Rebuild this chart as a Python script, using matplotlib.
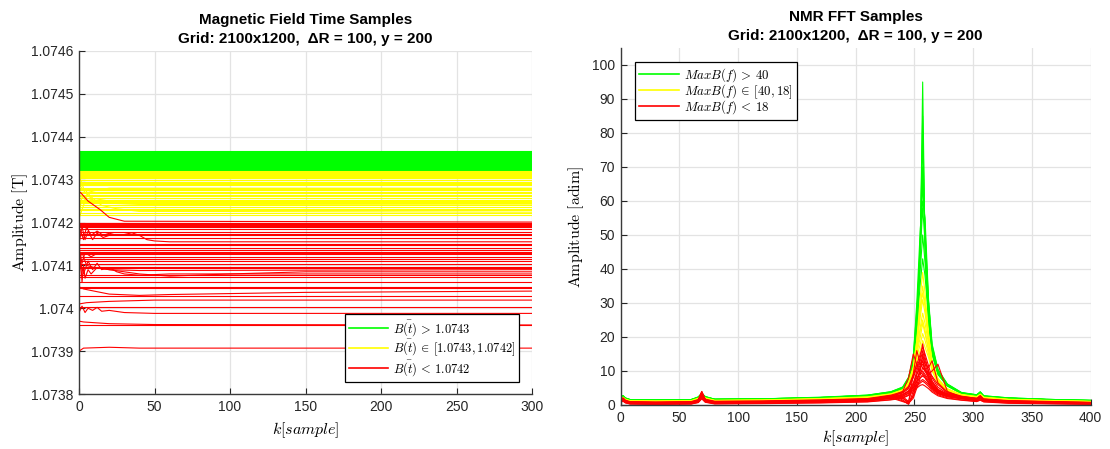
import matplotlib
matplotlib.use("Agg")
import matplotlib.pyplot as plt

plt.rcParams['mathtext.fontset'] = 'cm'
plt.rcParams['font.family'] = ['Liberation Sans', 'DejaVu Sans']

# ---------------- Left chart data (magnetic field time samples) ----------------
time_k_end = 300
green_levels = [1.074366, 1.074364, 1.074362, 1.074360, 1.074358, 1.074356, 1.074354,
                1.074352, 1.074350, 1.074348, 1.074346, 1.074344, 1.074342, 1.074340,
                1.074338, 1.074336, 1.074334, 1.074332, 1.074330, 1.074328, 1.074326,
                1.074324, 1.074322]
yellow_levels = [1.074320, 1.074318, 1.074316, 1.074313, 1.074311, 1.074308, 1.074306,
                 1.074303, 1.074300, 1.074298, 1.074295, 1.074292, 1.074290, 1.074287,
                 1.074281, 1.074279, 1.074276, 1.074272, 1.074270, 1.074268, 1.074264,
                 1.074262, 1.074256, 1.074252, 1.074250, 1.074248, 1.074245, 1.074241,
                 1.074237, 1.074232, 1.074228, 1.074221, 1.074217]
red_levels = [1.074200, 1.074198, 1.074196, 1.074195, 1.074192, 1.074189, 1.074186,
              1.074177, 1.074174, 1.074171, 1.074165, 1.074151, 1.074147, 1.074140,
              1.074136, 1.074132, 1.074129, 1.074126, 1.074120, 1.074116, 1.074110,
              1.074104, 1.074097, 1.074093, 1.074077, 1.074073, 1.074062, 1.074050,
              1.074048, 1.074028, 1.074004, 1.073961]
# transient (non flat) traces: (k knots, values)
yellow_paths = [
    ([0, 3, 8, 15, 25, 40, 300], [1.07431, 1.07428, 1.07426, 1.07424, 1.074232, 1.074226, 1.074224]),
    ([0, 2, 5, 10, 20, 300], [1.07422, 1.07426, 1.07425, 1.074256, 1.07425, 1.074249]),
    ([0, 3, 6, 10, 20, 300], [1.07421, 1.07424, 1.07427, 1.074274, 1.07428, 1.07428]),
    ([0, 4, 10, 20, 40, 300], [1.07429, 1.07427, 1.07425, 1.074245, 1.074242, 1.074241]),
]
red_paths = [
    ([1, 3, 6, 10, 14, 20, 30, 300], [1.07427, 1.074262, 1.07425, 1.07424, 1.07423, 1.074212, 1.074203, 1.074201]),
    ([0, 3, 5, 8, 12, 16, 20, 25, 30, 35, 40, 45, 50, 60, 300],
     [1.07419, 1.07416, 1.07419, 1.07417, 1.07418, 1.07417, 1.074175, 1.07417, 1.074172,
      1.074176, 1.07417, 1.07416, 1.074157, 1.074155, 1.074155]),
    ([0, 2, 4, 6, 9, 12, 16, 20, 300], [1.07415, 1.07419, 1.07416, 1.07418, 1.07416, 1.074175, 1.074165, 1.07417, 1.07417]),
    ([0, 2, 5, 10, 20, 40, 60, 100, 150, 300],
     [1.07411, 1.07413, 1.07410, 1.074095, 1.07409, 1.07408, 1.074075, 1.07408, 1.074085, 1.074085]),
    ([0, 1, 2, 3, 4, 6, 8, 12, 20, 40, 300],
     [1.07405, 1.07412, 1.07406, 1.07410, 1.07407, 1.07409, 1.07408, 1.074095, 1.07409, 1.074088, 1.07409]),
    ([0, 3, 6, 9, 12, 15, 20, 25, 30, 40, 60, 100, 300],
     [1.07412, 1.07408, 1.07411, 1.07409, 1.074105, 1.07409, 1.074095, 1.074085, 1.07408,
      1.074077, 1.07408, 1.07408, 1.07408]),
    ([0, 3, 10, 20, 40, 60, 150, 300], [1.07405, 1.074045, 1.07404, 1.074033, 1.07403, 1.074032, 1.074037, 1.07404]),
    ([0, 5, 20, 50, 300], [1.07401, 1.074013, 1.074016, 1.074019, 1.074019]),
    ([0, 2, 4, 6, 9, 12, 15, 20, 30, 50, 300],
     [1.07399, 1.074005, 1.07399, 1.074, 1.073995, 1.074002, 1.073993, 1.073995, 1.07399, 1.073988, 1.073988]),
    ([0, 3, 20, 50, 300], [1.07397, 1.073968, 1.073964, 1.073962, 1.073961]),
    ([0, 3, 20, 40, 300], [1.07390, 1.073907, 1.073909, 1.073907, 1.073907]),
    ([0, 2, 4, 8, 12, 20, 300], [1.07414, 1.074105, 1.07413, 1.07412, 1.074128, 1.074126, 1.074126]),
]
left_yticks = [1.0738, 1.0739, 1.0740, 1.0741, 1.0742, 1.0743, 1.0744, 1.0745, 1.0746]
left_ytick_labels = ['1.0738', '1.0739', '1.074', '1.0741', '1.0742', '1.0743', '1.0744', '1.0745', '1.0746']
left_xticks = [0, 50, 100, 150, 200, 250, 300]

# ---------------- Right chart data (FFT spectra) ----------------
fft_k = [0, 2, 4, 8, 30, 60, 66, 69, 72, 80, 120, 170, 210, 230, 240, 245, 249, 252,
         255, 257, 259, 262, 265, 270, 278, 290, 303, 306, 309, 330, 370, 400]
fft_green = [
    [2.4, 2.7, 2.0, 1.6, 1.5, 1.6, 2.2, 3.2, 2.4, 1.7, 1.8, 2.2, 2.8, 3.7, 4.8, 7.0, 11, 18, 45, 95, 45, 24, 15, 9.0, 5.6, 3.4, 2.8, 3.8, 2.6, 2.0, 1.5, 1.3],
    [2.3, 2.6, 1.9, 1.5, 1.4, 1.6, 2.3, 3.3, 2.3, 1.7, 1.8, 2.2, 2.8, 3.8, 5.0, 7.6, 12, 20, 48, 85, 47, 25, 15.5, 9.2, 5.7, 3.5, 2.9, 3.7, 2.6, 2.0, 1.5, 1.3],
    [2.2, 2.5, 1.9, 1.5, 1.4, 1.5, 2.3, 3.4, 2.3, 1.6, 1.7, 2.1, 2.7, 3.6, 4.9, 7.5, 12, 22, 50, 78, 50, 26, 16, 9.5, 5.8, 3.5, 2.9, 3.6, 2.5, 2.0, 1.5, 1.2],
    [2.2, 2.5, 1.9, 1.5, 1.4, 1.5, 2.2, 3.2, 2.3, 1.6, 1.7, 2.1, 2.7, 3.7, 5.1, 7.7, 13, 24, 47, 70, 51, 28, 16.5, 9.8, 5.9, 3.5, 2.9, 3.6, 2.5, 2.0, 1.5, 1.3],
    [2.5, 2.8, 2.1, 1.6, 1.5, 1.6, 2.4, 3.5, 2.5, 1.7, 1.8, 2.3, 2.9, 3.9, 5.2, 8.0, 13, 26, 48, 65, 52, 30, 17, 10, 6.0, 3.6, 3.0, 3.9, 2.7, 2.1, 1.6, 1.4],
    [2.1, 2.4, 1.8, 1.4, 1.3, 1.5, 2.1, 3.1, 2.2, 1.6, 1.7, 2.0, 2.6, 3.5, 5.0, 7.8, 14, 28, 45, 58, 48, 30, 17.5, 10.2, 6.1, 3.6, 2.9, 3.5, 2.6, 2.0, 1.5, 1.3],
    [2.3, 2.6, 2.0, 1.5, 1.4, 1.5, 2.2, 3.3, 2.4, 1.6, 1.7, 2.1, 2.7, 3.6, 4.7, 7.3, 12, 24, 40, 50, 42, 27, 16, 9.5, 5.8, 3.4, 2.8, 3.7, 2.5, 1.9, 1.5, 1.2],
    [2.0, 2.3, 1.8, 1.4, 1.3, 1.4, 2.0, 3.0, 2.1, 1.5, 1.6, 2.0, 2.5, 3.4, 4.6, 7.0, 12, 22, 36, 43, 38, 25, 15, 9.0, 5.6, 3.3, 2.7, 3.4, 2.4, 1.9, 1.4, 1.2],
    [2.4, 2.6, 2.0, 1.6, 1.5, 1.6, 2.2, 3.2, 2.4, 1.7, 1.8, 2.2, 2.9, 3.9, 5.3, 8.2, 14, 30, 52, 60, 55, 31, 18, 10.5, 6.2, 3.7, 3.0, 3.8, 2.7, 2.1, 1.6, 1.4],
]
fft_yellow = [
    [2.0, 2.3, 1.7, 1.3, 1.2, 1.3, 2.0, 3.0, 2.1, 1.4, 1.5, 1.9, 2.4, 3.3, 4.5, 6.5, 10.5, 19, 32, 39, 33, 21, 13, 7.8, 4.8, 3.1, 2.5, 3.2, 2.3, 1.7, 1.3, 1.1],
    [1.9, 2.2, 1.6, 1.2, 1.1, 1.2, 1.9, 2.9, 2.0, 1.3, 1.4, 1.8, 2.3, 3.2, 4.4, 6.7, 11, 18, 29, 35, 30, 20, 12.5, 7.5, 4.6, 3.0, 2.4, 3.0, 2.2, 1.6, 1.2, 1.0],
    [1.8, 2.1, 1.5, 1.2, 1.1, 1.2, 1.8, 2.8, 1.9, 1.3, 1.4, 1.7, 2.2, 3.0, 4.2, 6.3, 10, 17, 26, 31, 27, 19, 12, 7.2, 4.5, 2.9, 2.3, 3.1, 2.1, 1.6, 1.2, 1.0],
    [1.9, 2.2, 1.6, 1.2, 1.0, 1.1, 1.8, 2.7, 1.9, 1.2, 1.3, 1.7, 2.1, 3.0, 4.0, 6.0, 10, 16, 23, 27, 24, 18, 11.5, 7.0, 4.4, 2.8, 2.3, 2.9, 2.1, 1.5, 1.2, 1.0],
    [1.7, 2.0, 1.5, 1.1, 1.0, 1.1, 1.7, 2.6, 1.8, 1.2, 1.3, 1.6, 2.0, 2.9, 4.1, 6.2, 9.5, 15, 20, 24, 21, 16, 11, 6.8, 4.3, 2.8, 2.2, 2.8, 2.0, 1.5, 1.1, 0.9],
    [1.8, 2.1, 1.5, 1.1, 1.0, 1.1, 1.7, 2.7, 1.8, 1.2, 1.3, 1.6, 2.0, 2.8, 3.8, 5.5, 9.0, 14, 18, 21, 19, 15, 10.5, 6.5, 4.2, 2.7, 2.2, 2.8, 2.0, 1.4, 1.1, 0.9],
    [1.6, 1.9, 1.4, 1.0, 0.9, 1.0, 1.6, 2.5, 1.7, 1.1, 1.2, 1.5, 1.9, 2.7, 3.9, 5.8, 9.0, 13, 16, 19, 17, 14, 10, 6.2, 4.0, 2.6, 2.1, 2.7, 1.9, 1.4, 1.0, 0.9],
    [1.9, 2.1, 1.6, 1.2, 1.1, 1.2, 1.8, 2.8, 1.9, 1.3, 1.4, 1.8, 2.2, 3.1, 4.3, 6.6, 11, 19, 28, 33, 29, 20, 12.5, 7.4, 4.6, 3.0, 2.4, 3.0, 2.2, 1.6, 1.2, 1.0],
    [1.7, 2.0, 1.5, 1.1, 1.0, 1.1, 1.7, 2.6, 1.8, 1.2, 1.3, 1.6, 2.0, 2.9, 4.0, 6.0, 10, 16, 22, 25, 22, 16.5, 11, 6.8, 4.3, 2.8, 2.2, 2.9, 2.0, 1.5, 1.1, 0.9],
]
fft_red = [
    [1.6, 2.0, 1.3, 0.9, 0.8, 0.9, 1.5, 3.5, 1.6, 1.0, 1.1, 1.4, 1.8, 2.6, 3.5, 4.8, 8.0, 11, 14, 18, 14, 10, 7.0, 4.6, 3.2, 2.4, 1.9, 2.5, 1.7, 1.2, 0.9, 0.7],
    [1.4, 1.8, 1.2, 0.8, 0.7, 0.8, 1.4, 4.0, 1.5, 0.9, 1.0, 1.3, 1.7, 2.5, 2.0, 0.8, 9.0, 16, 12, 13, 11, 8.5, 6.0, 4.2, 3.0, 2.2, 1.8, 2.4, 1.6, 1.1, 0.8, 0.6],
    [1.5, 1.9, 1.2, 0.8, 0.7, 0.8, 1.4, 3.2, 1.5, 0.9, 1.0, 1.3, 1.7, 2.4, 3.2, 4.0, 5.0, 7.0, 10, 15, 12, 11, 13, 6.5, 3.8, 2.6, 1.9, 2.6, 1.7, 1.2, 0.9, 0.7],
    [1.3, 1.7, 1.1, 0.7, 0.6, 0.7, 1.3, 3.0, 1.4, 0.8, 0.9, 1.2, 1.6, 2.8, 1.5, 0.2, 4.0, 9.0, 12, 14, 12, 9.0, 6.5, 4.3, 3.0, 2.2, 1.7, 2.2, 1.5, 1.1, 0.8, 0.6],
    [1.2, 1.6, 1.0, 0.6, 0.5, 0.6, 1.2, 2.8, 1.3, 0.7, 0.8, 1.1, 1.5, 2.3, 3.0, 4.2, 6.5, 9.0, 11, 12, 10.5, 8.0, 6.0, 4.0, 2.9, 2.1, 1.6, 2.1, 1.4, 1.0, 0.7, 0.5],
    [1.4, 1.8, 1.1, 0.7, 0.6, 0.7, 1.3, 3.6, 1.4, 0.8, 0.9, 1.2, 1.6, 2.6, 2.0, 0.6, 2.5, 6.0, 9.0, 11, 10, 8.0, 5.5, 3.8, 2.8, 2.0, 1.6, 2.2, 1.5, 1.0, 0.8, 0.6],
    [1.1, 1.5, 1.0, 0.6, 0.5, 0.6, 1.1, 2.6, 1.2, 0.7, 0.8, 1.0, 1.4, 2.2, 2.9, 4.0, 6.0, 8.0, 9.5, 10, 9.0, 7.5, 5.5, 3.7, 2.7, 2.0, 1.5, 2.0, 1.4, 0.9, 0.7, 0.5],
    [1.3, 1.7, 1.1, 0.7, 0.6, 0.7, 1.2, 3.0, 1.3, 0.8, 0.9, 1.2, 1.6, 2.5, 4.0, 8.0, 15, 12, 9.0, 9.5, 8.5, 7.0, 5.2, 3.6, 2.7, 2.0, 1.6, 2.1, 1.4, 1.0, 0.7, 0.5],
    [1.0, 1.4, 0.9, 0.5, 0.4, 0.5, 1.0, 2.4, 1.1, 0.6, 0.7, 0.9, 1.3, 2.0, 2.7, 3.6, 5.5, 7.0, 8.0, 8.5, 8.0, 6.5, 5.0, 3.5, 2.5, 1.9, 1.4, 1.9, 1.3, 0.9, 0.6, 0.4],
    [1.2, 1.6, 1.0, 0.6, 0.5, 0.6, 1.2, 2.8, 1.2, 0.7, 0.8, 1.1, 1.5, 2.4, 1.2, 0.3, 3.0, 7.0, 11, 13, 10, 9.0, 10, 12, 4.0, 2.3, 1.6, 2.0, 1.4, 1.0, 0.7, 0.5],
    [1.0, 1.3, 0.8, 0.4, 0.3, 0.4, 0.9, 2.2, 1.0, 0.5, 0.6, 0.8, 1.2, 1.9, 2.5, 3.4, 5.0, 6.0, 7.0, 7.5, 7.0, 6.0, 4.6, 3.3, 2.4, 1.8, 1.3, 1.8, 1.2, 0.8, 0.5, 0.3],
    [1.5, 1.9, 1.2, 0.8, 0.7, 0.8, 1.4, 3.8, 1.5, 0.9, 1.0, 1.3, 1.7, 2.7, 2.5, 1.0, 6.0, 10, 13, 16, 13, 10, 7.0, 4.5, 3.1, 2.3, 1.8, 2.8, 1.6, 1.1, 0.8, 0.6],
    [0.9, 1.2, 0.7, 0.3, 0.2, 0.3, 0.8, 2.0, 0.9, 0.4, 0.5, 0.7, 1.0, 1.6, 2.2, 3.0, 4.5, 5.5, 6.5, 7.0, 6.5, 5.5, 4.2, 3.0, 2.1, 1.5, 1.1, 1.5, 1.0, 0.6, 0.4, 0.2],
    [1.7, 2.1, 1.4, 1.0, 0.9, 1.0, 1.6, 3.9, 1.7, 1.1, 1.2, 1.5, 1.9, 2.9, 3.9, 5.5, 9.0, 12, 15, 17, 15, 11.5, 8.0, 5.2, 3.4, 2.5, 2.0, 2.6, 1.8, 1.3, 1.0, 0.8],
    [1.1, 1.4, 0.9, 0.5, 0.4, 0.5, 1.0, 2.5, 1.1, 0.6, 0.7, 0.9, 1.3, 2.1, 1.0, 0.5, 2.0, 5.0, 8.0, 9.0, 8.0, 6.5, 5.0, 3.4, 2.5, 1.9, 1.4, 1.9, 1.3, 0.9, 0.6, 0.4],
    [1.4, 1.8, 1.2, 0.8, 0.7, 0.8, 1.3, 3.3, 1.4, 0.9, 1.0, 1.3, 1.7, 2.6, 3.7, 5.2, 8.5, 12, 12, 11, 10, 9.5, 8.5, 6.0, 3.6, 2.4, 1.8, 2.3, 1.6, 1.1, 0.8, 0.6],
    [0.8, 1.1, 0.6, 0.3, 0.2, 0.3, 0.7, 1.8, 0.8, 0.3, 0.4, 0.6, 0.9, 1.5, 2.0, 2.8, 4.0, 5.0, 5.8, 6.0, 5.6, 4.8, 3.8, 2.7, 1.9, 1.4, 1.0, 1.4, 0.9, 0.5, 0.3, 0.2],
]
right_yticks = [0, 10, 20, 30, 40, 50, 60, 70, 80, 90, 100]
right_xticks = [0, 50, 100, 150, 200, 250, 300, 350, 400]

GREEN, YELLOW, RED = '#00ff00', '#ffff00', '#ff0000'
LW = 0.8
TICKC = '#262626'

fig = plt.figure(figsize=(11.10, 4.49), dpi=100)
axL = fig.add_axes([79 / 1110, (449 - 394) / 449, (532 - 79) / 1110, (394 - 51) / 449])
axR = fig.add_axes([620.7 / 1110, (449 - 405) / 449, (1090.7 - 620.7) / 1110, (405 - 48) / 449])


def style(ax):
    ax.set_axisbelow(True)
    ax.grid(True, color='#e3e3e3', linewidth=0.9)
    for s in ('top', 'right'):
        ax.spines[s].set_visible(False)
    for s in ('left', 'bottom'):
        ax.spines[s].set_color('#3a3a3a')
        ax.spines[s].set_linewidth(1.0)
    ax.tick_params(direction='in', length=4, width=0.8, colors=TICKC, labelsize=10,
                   labelcolor=TICKC, pad=4)


def add_legend(ax, handles, labels, loc, anchor, spacing, fs):
    leg = ax.legend(handles, labels, loc=loc, bbox_to_anchor=anchor, borderaxespad=0,
                    fontsize=fs, fancybox=False, framealpha=1, edgecolor='#000000',
                    handlelength=3.1, handletextpad=0.4, labelspacing=spacing, borderpad=0.3)
    leg.get_frame().set_linewidth(0.9)
    for ln in leg.get_lines():
        ln.set_linewidth(1.2)
        ln.set_alpha(1)
    return leg


# ---- left ----
hl = []
for v in green_levels:
    ln, = axL.plot([0, time_k_end], [v, v], color=GREEN, lw=LW)
hl.append(ln)
for v in yellow_levels:
    ln, = axL.plot([0, time_k_end], [v, v], color=YELLOW, lw=LW)
hl.append(ln)
for ks, vs in yellow_paths:
    axL.plot(ks, vs, color=YELLOW, lw=LW)
for v in red_levels:
    ln, = axL.plot([0, time_k_end], [v, v], color=RED, lw=LW)
hl.append(ln)
for ks, vs in red_paths:
    axL.plot(ks, vs, color=RED, lw=LW)

style(axL)
axL.set_xlim(0, 300)
axL.set_ylim(1.0738, 1.0746)
axL.set_xticks(left_xticks)
axL.set_yticks(left_yticks)
axL.set_yticklabels(left_ytick_labels)
axL.set_xlabel(r'$k[sample]$', fontsize=11.5, labelpad=5)
axL.set_ylabel(r'$\mathrm{Amplitude\ [T]}$', fontsize=11.5, labelpad=1)
axL.set_title('Magnetic Field Time Samples\nGrid: 2100x1200,  ΔR = 100, y = 200',
              fontsize=11, fontweight='bold', pad=6, linespacing=1.45)
add_legend(axL, hl, [r'$\bar{B(t)}\, >\, 1.0743$', r'$\bar{B(t)}\, \in\, [1.0743, 1.0742]$',
                     r'$\bar{B(t)}\, <\, 1.0742$'], 'lower right', (0.971, 0.035), 0.0, 9.0)

# ---- right ----
hr = []
for row in fft_green:
    ln, = axR.plot(fft_k, row, color=GREEN, lw=LW)
hr.append(ln)
for row in fft_yellow:
    ln, = axR.plot(fft_k, row, color=YELLOW, lw=LW)
hr.append(ln)
for row in fft_red:
    ln, = axR.plot(fft_k, row, color=RED, lw=LW)
hr.append(ln)

style(axR)
axR.set_xlim(0, 400)
axR.set_ylim(0, 105)
axR.set_xticks(right_xticks)
axR.set_yticks(right_yticks)
axR.set_xlabel(r'$k[sample]$', fontsize=11.5, labelpad=3)
axR.set_ylabel(r'$\mathrm{Amplitude\ [adim]}$', fontsize=11.5, labelpad=4)
axR.set_title('NMR FFT Samples\nGrid: 2100x1200,  ΔR = 100, y = 200',
              fontsize=11, fontweight='bold', pad=6, linespacing=1.45)
add_legend(axR, hr, [r'$MaxB(f)\, >\, 40$', r'$MaxB(f)\, \in\, [40, 18]$', r'$MaxB(f)\, <\, 18$'],
           'upper left', (0.03, 0.96), -0.15, 9.3)

fig.savefig('out.png', dpi=100)
